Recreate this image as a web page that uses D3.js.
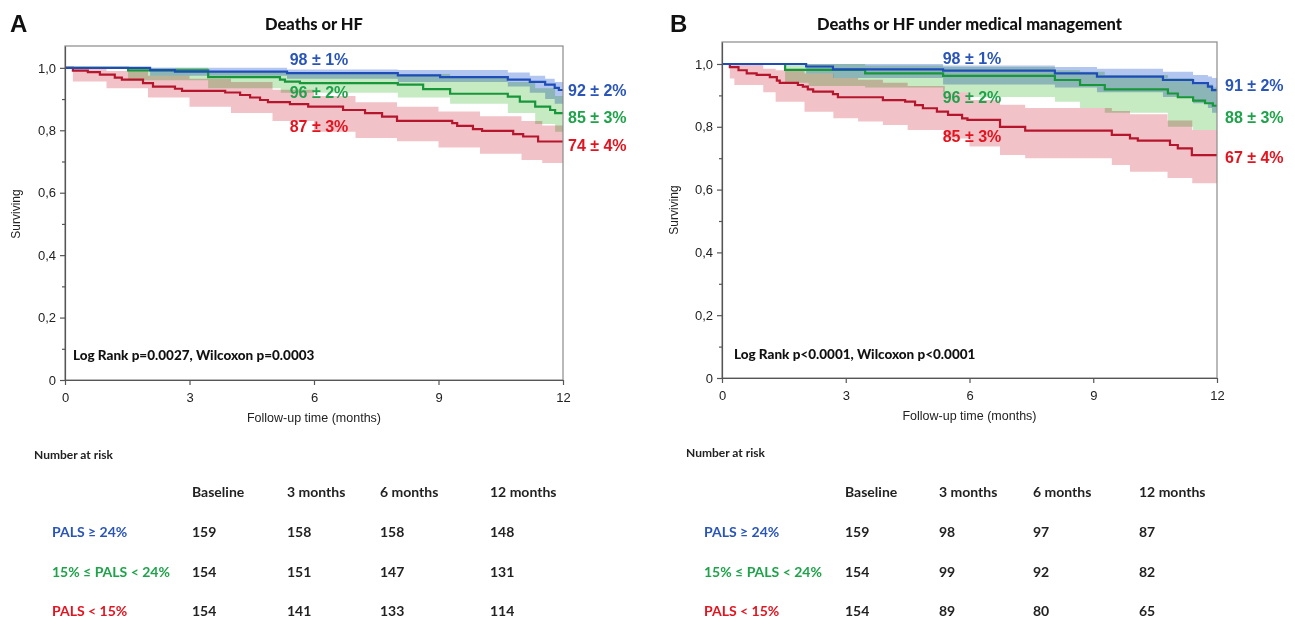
<!DOCTYPE html>
<html><head><meta charset="utf-8">
<script src="https://cdn.jsdelivr.net/npm/d3@7"></script>
<style>body{margin:0;background:#fff}svg{display:block}</style>
</head><body>
<svg id="c" width="1295" height="627"></svg>
<script>
// ---------- DATA ----------
const xTicks = [0, 3, 6, 9, 12];
const yTicks = [0, 0.2, 0.4, 0.6, 0.8, 1.0];
const yMinor = [0.1, 0.3, 0.5, 0.7, 0.9];
const groupNames = ["PALS \u2265 24%", "15% \u2264 PALS < 24%", "PALS < 15%"];
const riskCols = ["Baseline", "3 months", "6 months", "12 months"];

// Panel A curves [time, survival]
const blueA = [[0,1],[2.05,0.993],[2.65,0.988],[5.35,0.983],[8.02,0.976],[9.04,0.970],[10.67,0.962],[11.2,0.955],[11.57,0.946],[11.8,0.936],[11.9,0.929]];
const greenA = [[0,1],[1.52,0.992],[3.45,0.970],[5.18,0.962],[5.30,0.956],[5.66,0.951],[8.02,0.946],[8.63,0.932],[9.28,0.917],[10.67,0.908],[10.96,0.892],[11.33,0.876],[11.69,0.865],[11.81,0.855]];
const redA = [[0,1],[0.19,0.991],[0.55,0.986],[0.84,0.978],[1.20,0.969],[1.37,0.962],[1.88,0.951],[2.12,0.940],[2.65,0.933],[2.82,0.926],[3.86,0.921],[4.22,0.913],[4.46,0.905],[4.70,0.897],[4.89,0.890],[5.42,0.884],[5.86,0.876],[6.70,0.865],[7.23,0.855],[7.64,0.844],[8.0,0.830],[9.33,0.823],[9.45,0.814],[9.83,0.804],[10.05,0.798],[10.80,0.788],[11.04,0.780],[11.40,0.764]];
// Panel A bands [time, lower, upper]
const blueABand = [[0,1,1],[2.05,0.975,1.0],[5.35,0.965,0.995],[8.02,0.955,0.993],[10.67,0.94,0.985],[11.2,0.92,0.975],[11.57,0.90,0.965],[11.8,0.885,0.955]];
const greenABand = [[0,1,1],[1.52,0.96,1.0],[3.45,0.935,0.99],[5.2,0.92,0.985],[8.02,0.905,0.98],[9.28,0.885,0.97],[10.67,0.855,0.955],[11.33,0.82,0.935],[11.81,0.795,0.91]];
const redABand = [[0,1,1],[0.19,0.956,1.0],[1,0.935,0.99],[2,0.905,0.975],[3,0.875,0.965],[4,0.855,0.955],[5,0.83,0.93],[6,0.795,0.91],[7,0.775,0.89],[8,0.765,0.875],[9,0.745,0.86],[10,0.725,0.845],[11,0.705,0.83],[11.5,0.695,0.815]];

// Panel B curves
const blueB = [[0,1],[2.04,0.992],[2.69,0.983],[5.36,0.979],[8.07,0.970],[9.09,0.960],[10.69,0.949],[11.42,0.939],[11.78,0.928],[11.88,0.917]];
const greenB = [[0,1],[1.53,0.981],[3.47,0.970],[5.36,0.962],[8.07,0.949],[8.68,0.933],[9.28,0.919],[10.81,0.906],[11.05,0.894],[11.42,0.883],[11.71,0.875],[11.9,0.867]];
const redB = [[0,1],[0.19,0.990],[0.40,0.980],[0.60,0.970],[0.84,0.965],[1.16,0.958],[1.33,0.947],[1.40,0.940],[1.84,0.933],[1.96,0.928],[2.08,0.919],[2.21,0.912],[2.69,0.904],[2.81,0.894],[3.90,0.885],[4.44,0.880],[4.68,0.869],[4.87,0.859],[5.21,0.848],[5.48,0.838],[5.82,0.827],[5.95,0.822],[6.74,0.800],[7.35,0.788],[9.45,0.774],[9.89,0.763],[10.08,0.756],[10.86,0.742],[11.05,0.731],[11.39,0.710]];
const blueBBand = [[0,1,1],[2.04,0.97,1.0],[2.69,0.955,1.0],[5.36,0.935,0.995],[8.07,0.925,0.99],[9.09,0.91,0.985],[10.69,0.895,0.975],[11.42,0.875,0.965],[11.78,0.86,0.96],[11.88,0.845,0.955]];
const greenBBand = [[0,1,1],[1.53,0.94,1.0],[2.1,0.93,1.0],[3.47,0.925,0.995],[5.36,0.91,0.99],[6,0.895,0.99],[8.07,0.88,0.98],[8.68,0.86,0.975],[9.28,0.845,0.965],[10.81,0.80,0.955],[11.42,0.79,0.935],[11.9,0.79,0.925]];
const redBBand = [[0,1,1],[0.19,0.954,1.0],[0.3,0.933,1.0],[1,0.91,0.985],[1.3,0.88,0.98],[2,0.848,0.97],[2.7,0.827,0.955],[3.3,0.817,0.95],[3.9,0.806,0.94],[4.5,0.79,0.93],[5.4,0.763,0.91],[6.0,0.737,0.885],[6.74,0.71,0.87],[7.35,0.70,0.86],[9.45,0.678,0.85],[9.89,0.657,0.84],[10.8,0.637,0.82],[11.4,0.62,0.79]];

// Annotations
const labelsA6 = ["98 \u00b1 1%", "96 \u00b1 2%", "87 \u00b1 3%"];
const labelsA12 = ["92 \u00b1 2%", "85 \u00b1 3%", "74 \u00b1 4%"];
const labelsB6 = ["98 \u00b1 1%", "96 \u00b1 2%", "85 \u00b1 3%"];
const labelsB12 = ["91 \u00b1 2%", "88 \u00b1 3%", "67 \u00b1 4%"];

// Number at risk
const riskA_blue = [159, 158, 158, 148];
const riskA_green = [154, 151, 147, 131];
const riskA_red = [154, 141, 133, 114];
const riskB_blue = [159, 98, 97, 87];
const riskB_green = [154, 99, 92, 82];
const riskB_red = [154, 89, 80, 65];

// ---------- STYLE / LAYOUT ----------
const lineColors = ["#1f4db8", "#18963a", "#b5162c"];
const textColors = ["#2a55b8", "#1ea34a", "#e2141f"];
const bandColors = ["#b3c6f0", "#c6eac2", "#f1c2c8"];

const panels = [
  {letter:"A", letterX:10, title:"Deaths or HF", xr:[65,563], yr:[380,46],
   stats:"Log Rank p=0.0027, Wilcoxon p=0.0003", statsXY:[73,360],
   curves:[blueA, greenA, redA], bands:[blueABand, greenABand, redABand],
   l6:labelsA6, l6x:319, l6y:[65,98,132], l12:labelsA12, l12x:568, l12y:[96,123,151],
   survX:16, survY:214, xlabY:422,
   riskTitle:[34,459], riskLabX:52, riskCols:[192,287,380,490],
   risk:[riskA_blue, riskA_green, riskA_red]},
  {letter:"B", letterX:670, title:"Deaths or HF under medical management", xr:[722,1217], yr:[378,42],
   stats:"Log Rank p<0.0001, Wilcoxon p<0.0001", statsXY:[734,359],
   curves:[blueB, greenB, redB], bands:[blueBBand, greenBBand, redBBand],
   l6:labelsB6, l6x:972, l6y:[64,103,142], l12:labelsB12, l12x:1225, l12y:[91,123,163],
   survX:674, survY:210, xlabY:420,
   riskTitle:[686,457], riskLabX:704, riskCols:[845,939,1033,1139],
   risk:[riskB_blue, riskB_green, riskB_red]}
];

const svg = d3.select("#c");
const tickFont = "'Liberation Sans', Arial, sans-serif";
const calFont = "Lato, 'Open Sans', sans-serif";

panels.forEach(p => {
  const x = d3.scaleLinear().domain([0, 12]).range(p.xr);
  const y = d3.scaleLinear().domain([0, 1.07]).range(p.yr);
  const g = svg.append("g");

  // letter + title
  g.append("text").attr("x", p.letterX).attr("y", 32).text(p.letter)
    .attr("font-family", tickFont).attr("font-weight", "bold").attr("font-size", 24).attr("fill", "#111");
  g.append("text").attr("x", (p.xr[0] + p.xr[1]) / 2).attr("y", 30).attr("text-anchor", "middle")
    .text(p.title).attr("font-family", calFont).attr("font-weight", "900").attr("font-size", 16.5).attr("fill", "#111");

  // bands
  const area = d3.area().curve(d3.curveStepAfter)
    .x(d => x(d[0])).y0(d => y(d[1])).y1(d => y(d[2]));
  const bandG = g.append("g").style("isolation", "isolate");
  [2, 1, 0].forEach(i => {
    const b = p.bands[i];
    const data = b.concat([[12, b[b.length - 1][1], b[b.length - 1][2]]]);
    bandG.append("path").attr("d", area(data)).attr("fill", bandColors[i])
      .style("mix-blend-mode", "multiply");
  });

  // lines
  const line = d3.line().curve(d3.curveStepAfter).x(d => x(d[0])).y(d => y(d[1]));
  [2, 1, 0].forEach(i => {
    const c = p.curves[i];
    const data = c.concat([[12, c[c.length - 1][1]]]);
    g.append("path").attr("d", line(data)).attr("fill", "none")
      .attr("stroke", lineColors[i]).attr("stroke-width", 2.2);
  });

  // frame
  g.append("rect").attr("x", x(0)).attr("y", y(1.07)).attr("width", x(12) - x(0)).attr("height", y(0) - y(1.07))
    .attr("fill", "none").attr("stroke", "#8a8a8a").attr("stroke-width", 1.2);

  // axes
  const fmt = v => v === 0 ? "0" : d3.format(".1f")(v).replace(".", ",");
  const ya = g.append("g").attr("transform", `translate(${x(0)},0)`)
    .call(d3.axisLeft(y).tickValues(yTicks).tickFormat(fmt).tickSize(5).tickSizeOuter(0));
  const ym = g.append("g").attr("transform", `translate(${x(0)},0)`)
    .call(d3.axisLeft(y).tickValues(yMinor).tickFormat("").tickSize(3).tickSizeOuter(0));
  ym.select(".domain").remove();
  const xa = g.append("g").attr("transform", `translate(0,${y(0)})`)
    .call(d3.axisBottom(x).tickValues(xTicks).tickSize(5).tickSizeOuter(0));
  [ya, ym, xa].forEach(a => {
    a.selectAll("path,line").attr("stroke", "#555").attr("stroke-width", 1.2);
    a.selectAll("text").attr("font-family", tickFont).attr("font-size", 13).attr("fill", "#222");
  });
  ya.selectAll("text").attr("dx", -1);
  xa.selectAll("text").attr("dy", "1.1em");

  // axis titles
  g.append("text").attr("transform", `translate(${p.survX + 4},${p.survY}) rotate(-90)`)
    .attr("text-anchor", "middle").text("Surviving")
    .attr("font-family", tickFont).attr("font-size", 12).attr("fill", "#222");
  g.append("text").attr("x", (p.xr[0] + p.xr[1]) / 2).attr("y", p.xlabY).attr("text-anchor", "middle")
    .text("Follow-up time (months)").attr("font-family", tickFont).attr("font-size", 12.5).attr("fill", "#222");

  // stats
  g.append("text").attr("x", p.statsXY[0]).attr("y", p.statsXY[1]).text(p.stats)
    .attr("font-family", calFont).attr("font-weight", "900").attr("font-size", 13.5).attr("fill", "#111");

  // curve labels
  p.l6.forEach((t, i) => {
    g.append("text").attr("x", p.l6x).attr("y", p.l6y[i]).attr("text-anchor", "middle").text(t)
      .attr("font-family", tickFont).attr("font-weight", "bold").attr("font-size", 16).attr("fill", textColors[i]);
  });
  p.l12.forEach((t, i) => {
    g.append("text").attr("x", p.l12x).attr("y", p.l12y[i]).text(t)
      .attr("font-family", tickFont).attr("font-weight", "bold").attr("font-size", 16).attr("fill", textColors[i]);
  });

  // number at risk table
  g.append("text").attr("x", p.riskTitle[0]).attr("y", p.riskTitle[1]).text("Number at risk")
    .attr("font-family", calFont).attr("font-weight", "bold").attr("font-size", 12).attr("fill", "#222");
  riskCols.forEach((c, j) => {
    g.append("text").attr("x", p.riskCols[j]).attr("y", 497).text(c)
      .attr("font-family", calFont).attr("font-weight", "bold").attr("font-size", 14).attr("fill", "#222");
  });
  const rowY = [537, 577, 616];
  groupNames.forEach((n, i) => {
    g.append("text").attr("x", p.riskLabX).attr("y", rowY[i]).text(n)
      .attr("font-family", calFont).attr("font-weight", "bold").attr("font-size", 14).attr("fill", textColors[i]);
    p.risk[i].forEach((v, j) => {
      g.append("text").attr("x", p.riskCols[j]).attr("y", rowY[i]).text(v)
        .attr("font-family", calFont).attr("font-weight", "bold").attr("font-size", 14).attr("fill", "#222");
    });
  });
});
</script>
</body></html>
